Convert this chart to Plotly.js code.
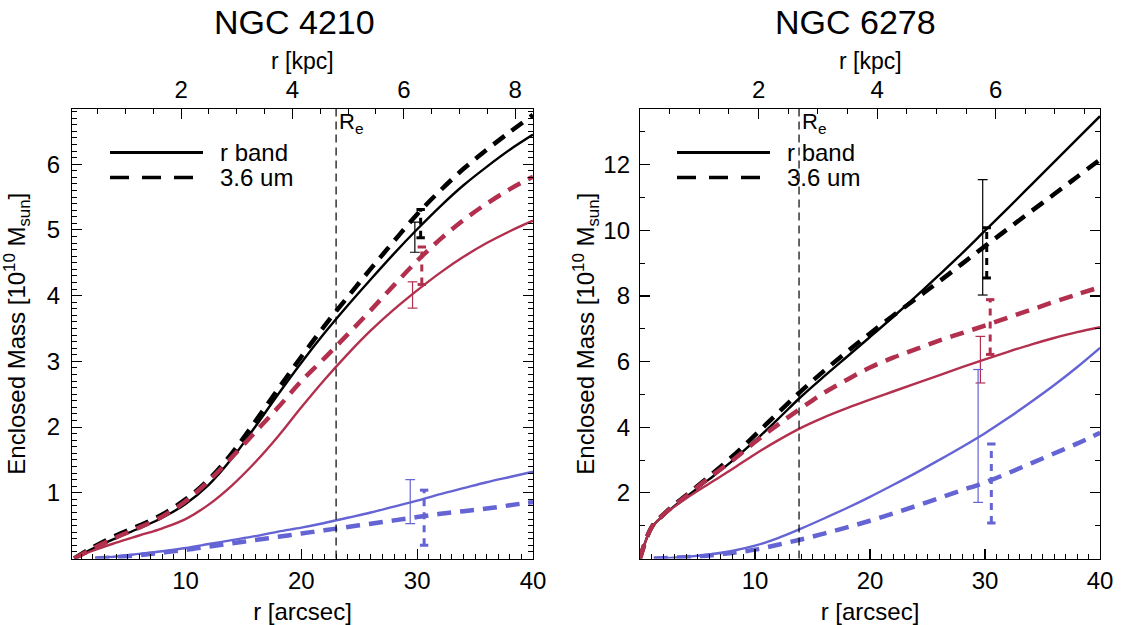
<!DOCTYPE html>
<html><head><meta charset="utf-8">
<script src="https://cdn.plot.ly/plotly-3.0.1.min.js"></script>
<style>html,body{margin:0;padding:0;background:#fff}#plot{width:1123px;height:625px}</style>
</head><body><div id="plot"></div>
<script>
// ---------------- DATA : NGC 4210 (left) ----------------
const titleL = 'NGC 4210';
const xL = [0.4,2,4,6,8,10,12,14,16,18,20,22,24,26,28,30,32,34,36,38,40];
const L_rTotal  = [0,0.15,0.31,0.46,0.62,0.83,1.12,1.52,2.0,2.5,2.98,3.43,3.85,4.25,4.64,5.01,5.36,5.68,5.96,6.22,6.45];
const L_irTotal = [0,0.17,0.35,0.5,0.67,0.9,1.2,1.6,2.08,2.58,3.07,3.54,3.98,4.41,4.83,5.24,5.6,5.93,6.22,6.49,6.75];
const L_rRed    = [0,0.12,0.24,0.35,0.46,0.6,0.82,1.11,1.46,1.86,2.3,2.72,3.11,3.47,3.79,4.08,4.35,4.59,4.8,4.98,5.14];
const L_irRed   = [0,0.15,0.32,0.47,0.64,0.87,1.18,1.54,1.92,2.3,2.7,3.05,3.41,3.78,4.16,4.53,4.86,5.15,5.4,5.62,5.81];
const xLb = [2.2,4,6,8,10,12,14,16,18,20,22,24,26,28,30,32,34,36,38,40];
const L_rBlue   = [0,0.03,0.07,0.11,0.16,0.22,0.28,0.34,0.41,0.47,0.54,0.62,0.7,0.79,0.88,0.98,1.07,1.16,1.24,1.32];
const L_irBlue  = [0,0.02,0.05,0.09,0.13,0.18,0.23,0.28,0.33,0.38,0.43,0.48,0.53,0.58,0.63,0.68,0.72,0.76,0.81,0.86];
// error bars: r total, 3.6 total, r red, 3.6 red, r blue, 3.6 blue
const errL_x  = [29.8, 30.3, 29.6, 30.4, 29.4, 30.6];
const errL_lo = [4.66, 4.88, 3.81, 4.17, 0.53, 0.20];
const errL_hi = [5.12, 5.31, 4.21, 4.74, 1.20, 1.04];
const ReL = 23.0;            // arcsec
const kpcPerArcsecL = 0.208;
const xRangeL = [0.2, 40];
const yRangeL = [0, 6.84];
const yTicksL = [1,2,3,4,5,6];
const xTicksArc = [10,20,30,40];
const kpcTicksL = [2,4,6,8];

// ---------------- DATA : NGC 6278 (right) ----------------
const titleR = 'NGC 6278';
const xR = [0,1,2,3,4,6,8,10,12,14,16,18,20,22,24,26,28,30,32,34,36,38,40];
const R_rTotal  = [0,0.93,1.3,1.6,1.87,2.41,2.97,3.59,4.25,4.93,5.55,6.15,6.75,7.36,7.99,8.64,9.3,9.99,10.68,11.38,12.08,12.78,13.48];
const R_irTotal = [0,0.95,1.33,1.64,1.92,2.5,3.1,3.76,4.44,5.1,5.72,6.3,6.86,7.4,7.92,8.44,8.98,9.52,10.05,10.58,11.1,11.63,12.16];
const R_rRed    = [0,0.93,1.3,1.58,1.83,2.28,2.72,3.18,3.6,3.98,4.3,4.58,4.84,5.09,5.34,5.58,5.83,6.07,6.3,6.52,6.72,6.9,7.05];
const R_irRed   = [0,0.95,1.33,1.62,1.9,2.46,2.98,3.55,4.08,4.58,5.05,5.45,5.82,6.12,6.38,6.64,6.87,7.1,7.34,7.58,7.82,8.05,8.27];
const xRb = [1.2,2,4,6,8,10,12,14,16,18,20,22,24,26,28,30,32,34,36,38,40];
const R_rBlue   = [0,0.01,0.05,0.12,0.23,0.39,0.62,0.91,1.22,1.54,1.88,2.24,2.61,3.0,3.4,3.82,4.28,4.77,5.28,5.83,6.42];
const R_irBlue  = [0,0.01,0.04,0.09,0.17,0.27,0.42,0.58,0.76,0.95,1.15,1.37,1.6,1.84,2.08,2.32,2.6,2.9,3.2,3.5,3.83];
const errR_x  = [29.8, 30.15, 29.6, 30.45, 29.4, 30.55];
const errR_lo = [8.03, 8.55, 5.35, 6.22, 1.71, 1.08];
const errR_hi = [11.55, 10.08, 6.77, 7.89, 5.76, 3.49];
const ReR = 13.83;
const kpcPerArcsecR = 0.194;
const xRangeR = [0, 40];
const yRangeR = [0, 13.7];
const yTicksR = [2,4,6,8,10,12];
const kpcTicksR = [2,4,6];

const legendLabels = ['r band', '3.6 um'];
const yTitle = 'Enclosed Mass [10<sup>10</sup> M<sub>sun</sub>]';
const xTitleBottom = 'r [arcsec]';
const xTitleTop = 'r [kpc]';

// ---------------- STYLE ----------------
const F = 'Liberation Sans, Arial, Helvetica, sans-serif';
const W = 1123, H = 625;
const px = v => v / W, py = v => 1 - v / H;
const BLACK = '#000000', RED = '#b2304e', BLUE = '#6464d4';
const seriesColors = [BLACK, BLACK, RED, RED, BLUE, BLUE];
const seriesDashed = [false, true, false, true, false, true];
const yDom = [py(558.5), py(109)];
const xDomL = [px(72), px(533)];
const xDomR = [px(640), px(1100)];

function curve(x, y, i, xa, ya) {
  const d = seriesDashed[i];
  return {type:'scatter', mode:'lines', x:x, y:y, xaxis:xa, yaxis:ya, showlegend:false, hoverinfo:'skip',
    line:{color:seriesColors[i], width:d?4.5:2.4, dash:d?'14px,9px':'solid', shape:'spline', smoothing:1}};
}
function errBar(x, lo, hi, i, xa, ya) {
  const d = seriesDashed[i];
  const w = d ? 3 : 1.2;
  return {type:'scatter', mode:'lines+markers', x:[x,x], y:[lo,hi], xaxis:xa, yaxis:ya, showlegend:false, hoverinfo:'skip',
    line:{color:seriesColors[i], width:w, dash:d?'7px,6px':'solid'},
    marker:{symbol:'line-ew', size:d?6:7, color:seriesColors[i], line:{color:seriesColors[i], width:w}}};
}
// invisible helper so the top (kpc) axes are drawn
function axisHelper(xr, yr, xa, ya) {
  return {type:'scatter', mode:'markers', x:xr, y:yr, xaxis:xa, yaxis:ya, showlegend:false, hoverinfo:'skip',
    marker:{opacity:0, size:1}};
}

const traces = [];
[[xL,L_rTotal],[xL,L_irTotal],[xL,L_rRed],[xL,L_irRed],[xLb,L_rBlue],[xLb,L_irBlue]].forEach((s,i)=>traces.push(curve(s[0],s[1],i,'x','y')));
errL_x.forEach((x,i)=>traces.push(errBar(x, errL_lo[i], errL_hi[i], i, 'x','y')));
[[xR,R_rTotal],[xR,R_irTotal],[xR,R_rRed],[xR,R_irRed],[xRb,R_rBlue],[xRb,R_irBlue]].forEach((s,i)=>traces.push(curve(s[0],s[1],i,'x3','y2')));
errR_x.forEach((x,i)=>traces.push(errBar(x, errR_lo[i], errR_hi[i], i, 'x3','y2')));
traces.push(axisHelper(xRangeL.map(v=>v*kpcPerArcsecL), yRangeL, 'x2', 'y'));
traces.push(axisHelper(xRangeR.map(v=>v*kpcPerArcsecR), yRangeR, 'x4', 'y2'));

const tickFont = {family:F, size:24, color:'#000'};
const titleFont = {family:F, size:24, color:'#000'};
const base = {showgrid:false, zeroline:false, showline:true, linecolor:'#000', linewidth:1.2,
  ticks:'inside', ticklen:10, tickwidth:1.1, tickcolor:'#000', tickfont:tickFont, fixedrange:true};
function minor(dt){ return {ticks:'inside', ticklen:5, tickwidth:1, tickcolor:'#000', dtick:dt, tick0:0, showgrid:false}; }

const layout = {
  width:W, height:H, autosize:false, margin:{l:0,r:0,t:0,b:0},
  paper_bgcolor:'#fff', plot_bgcolor:'#fff', showlegend:false, font:{family:F, color:'#000'},
  xaxis: Object.assign({}, base, {domain:xDomL, anchor:'y', range:xRangeL, tickmode:'array', tickvals:xTicksArc,
    minor:minor(1), title:{text:xTitleBottom, font:titleFont, standoff:10}}),
  xaxis2: Object.assign({}, base, {overlaying:'x', side:'top', anchor:'y', range:xRangeL.map(v=>v*kpcPerArcsecL),
    tickmode:'array', tickvals:kpcTicksL, minor:minor(0.5), ticklabelstandoff:0}),
  yaxis: Object.assign({}, base, {domain:yDom, anchor:'x', range:yRangeL, tickmode:'array', tickvals:yTicksL,
    minor:minor(0.1), mirror:'ticks', ticklabelstandoff:6, title:{text:yTitle, font:titleFont, standoff:14}}),
  xaxis3: Object.assign({}, base, {domain:xDomR, anchor:'y2', range:xRangeR, tickmode:'array', tickvals:xTicksArc,
    minor:minor(1), title:{text:xTitleBottom, font:titleFont, standoff:10}}),
  xaxis4: Object.assign({}, base, {overlaying:'x3', side:'top', anchor:'y2', range:xRangeR.map(v=>v*kpcPerArcsecR),
    tickmode:'array', tickvals:kpcTicksR, minor:minor(0.5), ticklabelstandoff:0}),
  yaxis2: Object.assign({}, base, {domain:yDom, anchor:'x3', range:yRangeR, tickmode:'array', tickvals:yTicksR,
    minor:minor(1), mirror:'ticks', ticklabelstandoff:4, title:{text:yTitle, font:titleFont, standoff:0}}),
  shapes: [
    {type:'line', xref:'x', yref:'y domain', x0:ReL, x1:ReL, y0:0, y1:1, line:{color:'#000', width:1.2, dash:'8px,5px'}},
    {type:'line', xref:'x3', yref:'y2 domain', x0:ReR, x1:ReR, y0:0, y1:1, line:{color:'#000', width:1.2, dash:'8px,5px'}},
    // legend samples
    {type:'line', xref:'paper', yref:'paper', x0:px(110), x1:px(203), y0:py(152.5), y1:py(152.5), line:{color:'#000', width:3}},
    {type:'line', xref:'paper', yref:'paper', x0:px(110), x1:px(193), y0:py(177.5), y1:py(177.5), line:{color:'#000', width:3.5, dash:'19px,13px'}},
    {type:'line', xref:'paper', yref:'paper', x0:px(677), x1:px(770), y0:py(152.5), y1:py(152.5), line:{color:'#000', width:3}},
    {type:'line', xref:'paper', yref:'paper', x0:px(677), x1:px(760), y0:py(177.5), y1:py(177.5), line:{color:'#000', width:3.5, dash:'19px,13px'}}
  ],
  annotations: [
    {text:titleL, xref:'paper', yref:'paper', x:px(294), y:py(22), xanchor:'center', yanchor:'middle', showarrow:false, font:{family:F, size:34, color:'#000'}},
    {text:titleR, xref:'paper', yref:'paper', x:px(855), y:py(22), xanchor:'center', yanchor:'middle', showarrow:false, font:{family:F, size:34, color:'#000'}},
    {text:xTitleTop, xref:'x domain', yref:'paper', x:0.5, y:py(61), xanchor:'center', yanchor:'middle', showarrow:false, font:{family:F, size:23, color:'#000'}},
    {text:xTitleTop, xref:'x3 domain', yref:'paper', x:0.5, y:py(61), xanchor:'center', yanchor:'middle', showarrow:false, font:{family:F, size:23, color:'#000'}},
    {text:'R<sub>e</sub>', xref:'x', yref:'y domain', x:ReL, y:1, xanchor:'left', yanchor:'top', xshift:1, yshift:2, showarrow:false, font:{family:F, size:22, color:'#000'}},
    {text:'R<sub>e</sub>', xref:'x3', yref:'y2 domain', x:ReR, y:1, xanchor:'left', yanchor:'top', xshift:1, yshift:2, showarrow:false, font:{family:F, size:22, color:'#000'}},
    {text:legendLabels[0], xref:'paper', yref:'paper', x:px(218), y:py(152.5), xanchor:'left', yanchor:'middle', showarrow:false, font:titleFont},
    {text:legendLabels[1], xref:'paper', yref:'paper', x:px(218), y:py(177.5), xanchor:'left', yanchor:'middle', showarrow:false, font:titleFont},
    {text:legendLabels[0], xref:'paper', yref:'paper', x:px(785), y:py(152.5), xanchor:'left', yanchor:'middle', showarrow:false, font:titleFont},
    {text:legendLabels[1], xref:'paper', yref:'paper', x:px(785), y:py(177.5), xanchor:'left', yanchor:'middle', showarrow:false, font:titleFont}
  ]
};

Plotly.newPlot('plot', traces, layout, {displayModeBar:false, staticPlot:true});
</script>
</body></html>
